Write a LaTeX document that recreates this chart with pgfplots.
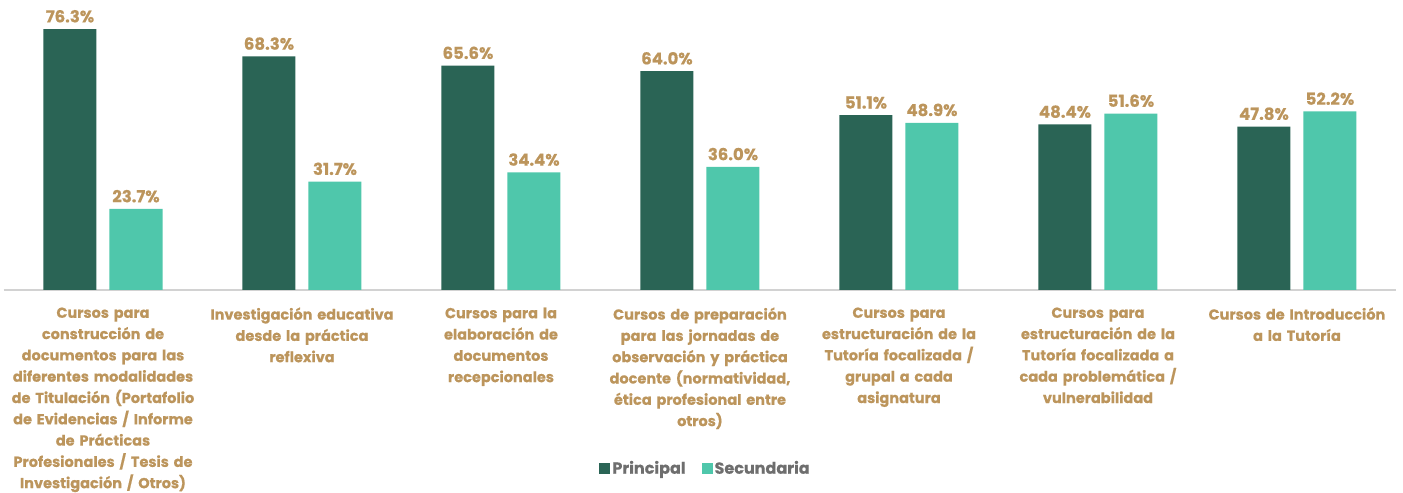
\documentclass[border=0pt]{standalone}
\usepackage{pgfplots}
\pgfplotsset{compat=1.18}
\usepackage{fontspec}
\setmainfont{Poppins}[BoldFeatures={FakeBold=0.5}]
\definecolor{principal}{HTML}{2A6455}
\definecolor{secundaria}{HTML}{4FC7AB}
\definecolor{gold}{HTML}{BC955C}
\definecolor{leggray}{HTML}{6E6E6E}

\begin{document}
\begin{tikzpicture}[x=1bp,y=1bp]
\useasboundingbox (0,0) rectangle (1403,493);
\begin{axis}[
    at={(3.5bp,203bp)}, anchor=south west,
    scale only axis,
    width=1393bp, height=290bp,
    xmin=-0.5, xmax=6.5, ymin=0, ymax=84.8,
    ybar=13bp, bar width=53bp,
    axis y line=none,
    axis x line*=bottom,
    x axis line style={draw=gray!35, line width=1.2bp, -},
    xtick=data, ytick=\empty,
    major tick length=0pt,
    xticklabels={
        {Cursos para\\construcción de\\documentos para las\\diferentes modalidades\\de Titulación (Portafolio\\de Evidencias / Informe\\de Prácticas\\Profesionales / Tesis de\\Investigación / Otros)},
        {Investigación educativa\\desde la práctica\\reflexiva},
        {Cursos para la\\elaboración de\\documentos\\recepcionales},
        {Cursos de preparación\\para las jornadas de\\observación y práctica\\docente (normatividad,\\ética profesional entre\\otros)},
        {Cursos para\\estructuración de la\\Tutoría focalizada /\\grupal a cada\\asignatura},
        {Cursos para\\estructuración de la\\Tutoría focalizada a\\cada problemática /\\vulnerabilidad},
        {Cursos de Introducción\\a la Tutoría}
    },
    xticklabel style={text width=200bp, align=center, anchor=north, yshift=-14bp,
        text=gold, font=\fontsize{14.5bp}{21.3bp}\selectfont\bfseries},
    /pgf/number format/assume math mode=true,
    nodes near coords={\pgfmathprintnumber[fixed,fixed zerofill,precision=1]{\pgfplotspointmeta}\%},
    every node near coord/.append style={text=gold, yshift=3bp, font=\fontsize{16.5bp}{19bp}\selectfont\bfseries},
    legend style={at={(0.504,-0.614)}, anchor=center, draw=none, fill=none,
        legend columns=2, font=\fontsize{16bp}{18bp}\selectfont\bfseries, text=leggray,
        /tikz/every even column/.append style={column sep=14bp}},
    legend image code/.code={\fill[#1] (0bp,-5.5bp) rectangle (11bp,5.5bp);},
    clip=false,
]
\addplot[fill=principal, draw=none] coordinates {(0,76.3) (1,68.3) (2,65.6) (3,64.0) (4,51.1) (5,48.4) (6,47.8)};
\addplot[fill=secundaria, draw=none] coordinates {(0,23.7) (1,31.7) (2,34.4) (3,36.0) (4,48.9) (5,51.6) (6,52.2)};
\legend{Principal, Secundaria}
\end{axis}
\end{tikzpicture}
\end{document}
